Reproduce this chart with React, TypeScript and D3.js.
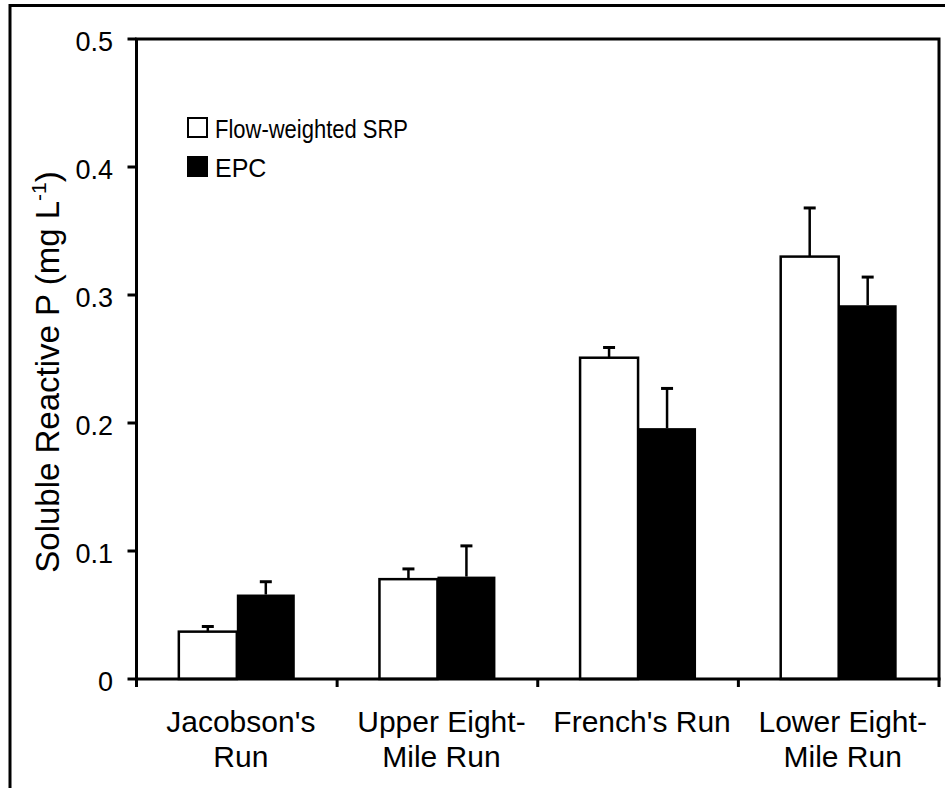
import React from "react";
import * as d3 from "d3";

const sites = ["Jacobson's Run", "Upper Eight-Mile Run", "French's Run", "Lower Eight-Mile Run"];
const siteLines = [["Jacobson's", "Run"], ["Upper Eight-", "Mile Run"], ["French's Run"], ["Lower Eight-", "Mile Run"]];
const series = ["Flow-weighted SRP", "EPC"];
const srp = [0.037, 0.078, 0.251, 0.33];
const srpErr = [0.004, 0.008, 0.008, 0.038];
const epc = [0.066, 0.08, 0.196, 0.292];
const epcErr = [0.01, 0.024, 0.031, 0.022];
const yTicks = [0, 0.1, 0.2, 0.3, 0.4, 0.5];

const W = 945;
const H = 788;
const left = 136.5;
const right = 939;
const top = 39;
const bottom = 679;
const font = "'Liberation Sans', Arial, sans-serif";

const App = () => {
  const x = d3.scaleBand().domain(sites).range([left, right]).padding(0);
  const xs = d3.scaleBand().domain(series).range([0, x.bandwidth()]).paddingInner(0).paddingOuter(0.73);
  const y = d3.scaleLinear().domain([0, 0.5]).range([bottom, top]);

  const rows = sites.map((s, i) => [
    { s, k: series[0], v: srp[i], e: srpErr[i], fill: "#fff" },
    { s, k: series[1], v: epc[i], e: epcErr[i], fill: "#000" },
  ]);

  const boundaries = [...sites.map((s) => x(s) as number), right];

  return (
    <svg width={W} height={H} style={{ position: "absolute", left: 0, top: 0, background: "#fff" }} fontFamily={font}>
      {/* outer frame, cropped at right and bottom */}
      <path d={`M10,${H + 5} V5.5 H${W + 5}`} fill="none" stroke="#000" strokeWidth={3} />

      {/* bars */}
      {rows.flat().map((d, i) => {
        const bx = (x(d.s) as number) + (xs(d.k) as number);
        const cx = bx + xs.bandwidth() / 2;
        return (
          <g key={i}>
            <line x1={cx} x2={cx} y1={y(d.v)} y2={y(d.v + d.e)} stroke="#000" strokeWidth={2.5} />
            <line x1={cx - 6} x2={cx + 6} y1={y(d.v + d.e)} y2={y(d.v + d.e)} stroke="#000" strokeWidth={3} />
            <rect
              x={bx}
              y={y(d.v)}
              width={xs.bandwidth()}
              height={bottom - y(d.v)}
              fill={d.fill}
              stroke="#000"
              strokeWidth={d.fill === "#fff" ? 2.5 : 0}
            />
          </g>
        );
      })}

      {/* plot box */}
      <path d={`M${left},${bottom} V${top} H${right} V${bottom}`} fill="none" stroke="#000" strokeWidth={3} />
      <line x1={left - 1.5} x2={right + 1.5} y1={bottom} y2={bottom} stroke="#000" strokeWidth={3} />

      {/* y ticks */}
      {yTicks.map((t) => (
        <g key={t}>
          <line x1={left - 9} x2={left} y1={y(t)} y2={y(t)} stroke="#000" strokeWidth={3} />
          <text x={113} y={y(t) + 3} dy="0.35em" textAnchor="end" fontSize={27}>
            {t === 0 ? "0" : t.toFixed(1)}
          </text>
        </g>
      ))}

      {/* x ticks */}
      {boundaries.map((b, i) => (
        <line key={i} x1={b} x2={b} y1={bottom} y2={bottom + 8} stroke="#000" strokeWidth={3} />
      ))}
      {sites.map((s, i) => (
        <text key={s} x={(x(s) as number) + x.bandwidth() / 2 + 4} y={732} textAnchor="middle" fontSize={30}>
          {siteLines[i].map((ln, j) => (
            <tspan key={j} x={(x(s) as number) + x.bandwidth() / 2 + 4} dy={j === 0 ? 0 : 35}>
              {ln}
            </tspan>
          ))}
        </text>
      ))}

      {/* y label */}
      <text transform={`translate(59,372) rotate(-90)`} textAnchor="middle" fontSize={33}>
        Soluble Reactive P (mg L
        <tspan fontSize={21} dy={-13}>-1</tspan>
        <tspan dy={13}>)</tspan>
      </text>

      {/* legend */}
      {series.map((s, i) => (
        <g key={s} transform={`translate(188,${118 + i * 39})`}>
          <rect x={0} y={0} width={19} height={19} fill={i === 0 ? "#fff" : "#000"} stroke="#000" strokeWidth={2} />
          <text x={27} y={20} fontSize={25} transform="scale(1,1)" textLength={s.length > 3 ? 193 : undefined} lengthAdjust="spacingAndGlyphs">
            {s}
          </text>
        </g>
      ))}
    </svg>
  );
};

export default App;
